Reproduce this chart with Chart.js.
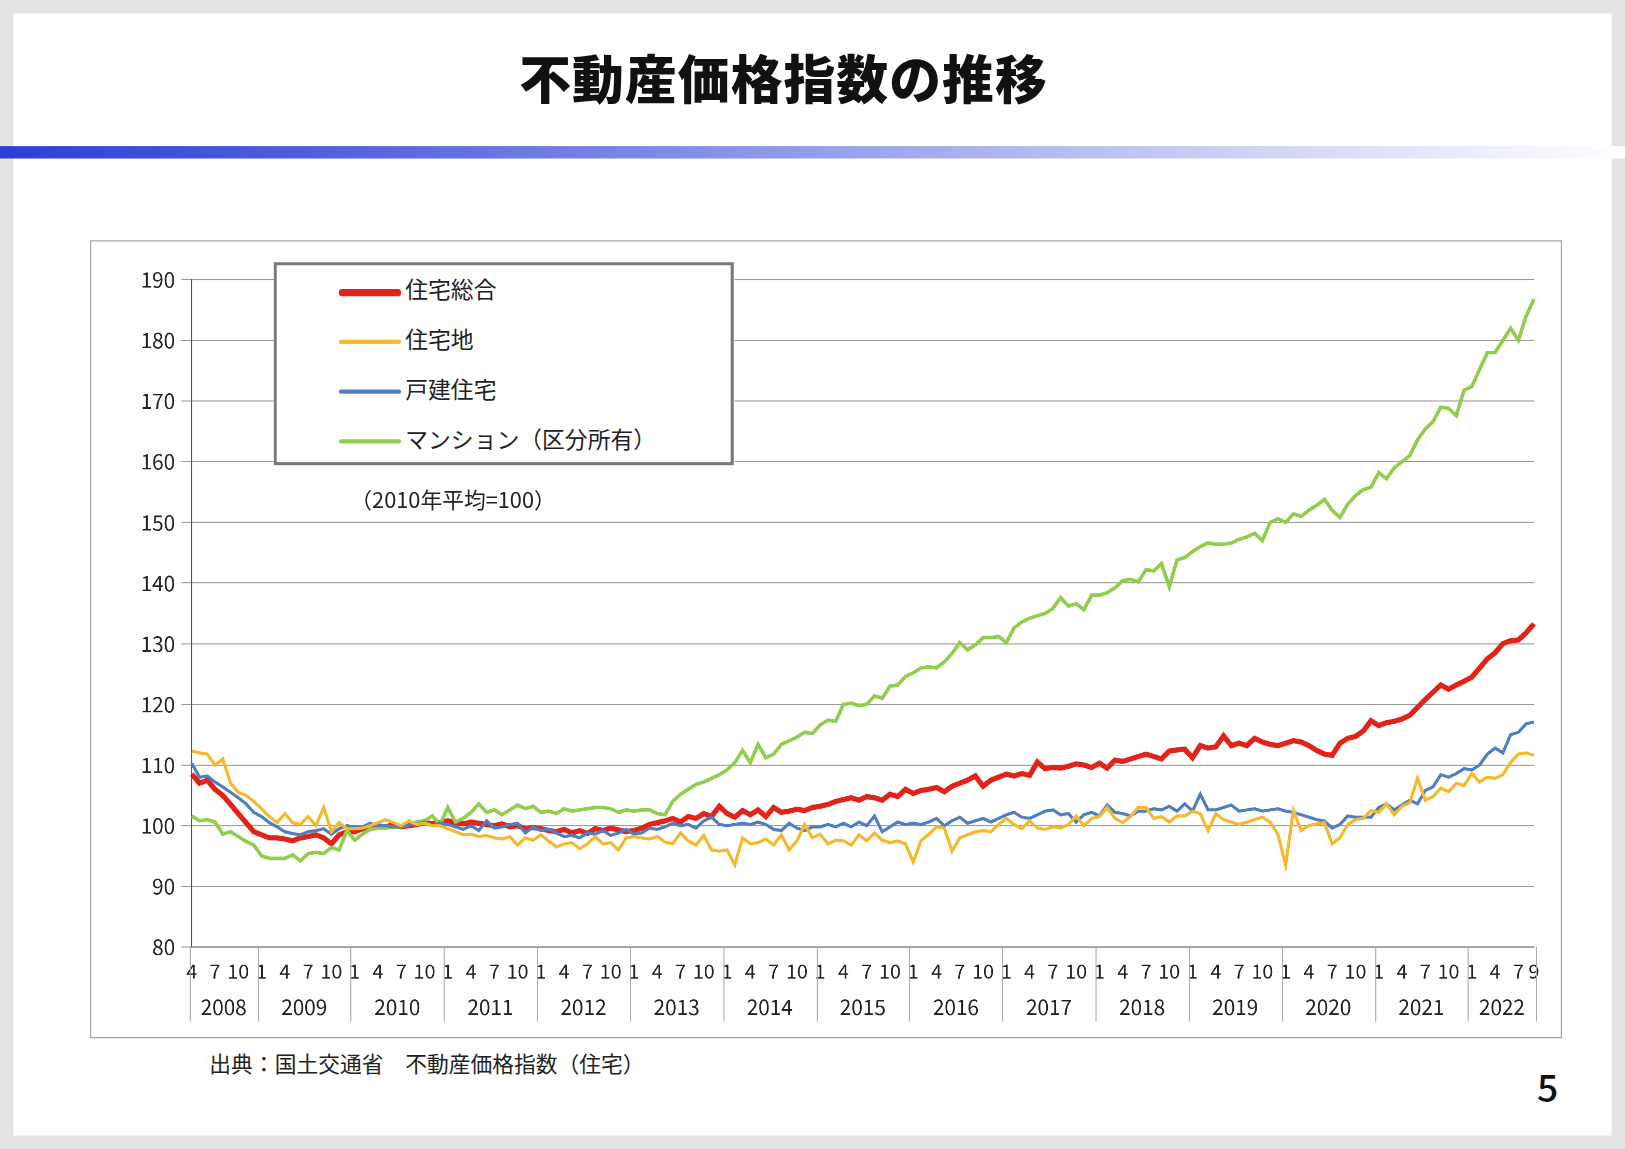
<!DOCTYPE html>
<html>
<head>
<meta charset="utf-8">
<script src="https://cdn.jsdelivr.net/npm/chart.js@4.4.3/dist/chart.umd.min.js"></script>
<style>
  html, body { margin: 0; padding: 0; background: #e4e4e4; overflow: hidden; }
  #slide { position: absolute; left: 0; top: 0; width: 1568px; height: 1109px;
    transform-origin: 0 0; transform: scale(1.0364, 1.0361);
    font-family: "Noto Sans CJK JP", "Noto Sans", sans-serif; }
  #page { position: absolute; left: 13px; top: 13px; width: 1542px; height: 1083px; background: #fff; }
  #title { position: absolute; left: 0; width: 1512px; top: 38px; text-align: center;
    font-size: 50px; font-weight: 900; color: #111; letter-spacing: 1px; }
  #bar { position: absolute; left: 0; top: 141px; width: 1568px; height: 12px;
    background: linear-gradient(to right, #2b3fd6 0%, #5a6ae0 25%, #aab2ee 60%, #ffffff 100%); }
  #box { position: absolute; left: 87px; top: 232px; width: 1418px; height: 768px; border: 1px solid #999; background: #fff; }
  #wrap { position: absolute; left: 87px; top: 232px; width: 1420px; height: 770px; }
  #legend { position: absolute; left: 264px; top: 253px; width: 438px; height: 190px;
    border: 3px solid #7a7a7a; background: #fff; }
  .li { position: absolute; left: 60px; font-size: 22px; color: #222; }
  .li span { display: inline-block; width: 60px; vertical-align: middle; margin-right: 4px; border-radius: 3px; }
  #note { position: absolute; left: 338px; top: 466px; font-size: 21px; color: #222; }
  #src { position: absolute; left: 202px; top: 1011px; font-size: 21px; color: #222; }
  #num { position: absolute; left: 1483px; top: 1022px; font-size: 36px; font-weight: 500; color: #111; }
</style>
</head>
<body>
<div id="slide">
  <div id="page"></div>
  <div id="title">不動産価格指数の推移</div>
  <div id="bar"></div>
  <div id="box"></div>
  <div id="wrap"><canvas id="c" width="1420" height="770"></canvas></div>
  <div id="legend">
    <div class="li" style="top:6px"><span style="height:7px;background:#e2231a"></span>住宅総合</div>
    <div class="li" style="top:54px"><span style="height:4px;background:#f4b92c"></span>住宅地</div>
    <div class="li" style="top:102px"><span style="height:4px;background:#4f7fc0"></span>戸建住宅</div>
    <div class="li" style="top:150px"><span style="height:4px;background:#92cd50"></span>マンション（区分所有）</div>
  </div>
  <div id="note">（2010年平均=100）</div>
  <div id="src">出典：国土交通省　不動産価格指数（住宅）</div>
  <div id="num">5</div>
</div>
<script>
const years = [2008,2009,2010,2011,2012,2013,2014,2015,2016,2017,2018,2019,2020,2021,2022];
const startMonth = 4, endMonth = 9;
const yTicks = [80,90,100,110,120,130,140,150,160,170,180,190];

// 住宅総合
const total = [
108.5,107,107.5,106,105,103.5,102,100.5,99,
98.5,98,98,97.8,97.5,98,98.2,98.5,98,97,98.5,99,
99,99.5,99.5,100,99.8,100.2,99.8,100,100.2,100.5,100.3,100.5,
100.8,100.5,100.3,100.6,100.4,100.2,100,100.3,99.8,100,99.5,99.7,
99.5,99.2,99,99.4,98.8,99.2,98.7,99.5,99.2,99.6,99.3,99,
99.2,99.6,100.2,100.5,100.8,101.2,100.6,101.5,101.2,102,101.5,103.2,
102,101.4,102.5,101.8,102.6,101.5,103,102.2,102.4,102.7,102.5,103,
103.2,103.5,104,104.3,104.6,104.2,104.8,104.6,104.2,105.2,104.8,106,
105.3,105.8,106,106.3,105.6,106.5,107,107.5,108.2,106.5,107.5,108,
108.5,108.2,108.6,108.3,110.5,109.4,109.6,109.5,109.8,110.2,110,109.6,
110.3,109.5,110.8,110.6,111,111.4,111.8,111.4,111,112.3,112.5,112.6,
111.2,113.2,112.8,113,114.8,113.2,113.6,113.2,114.4,113.8,113.4,113.2,
113.6,114,113.8,113.2,112.4,111.8,111.6,113.6,114.4,114.7,115.6,117.3,
116.5,117,117.2,117.6,118.2,119.5,120.8,122,123.2,122.5,123.2,123.8,
124.5,126,127.5,128.5,130,130.5,130.6,131.8,133.3];

// 住宅地
const land = [
112.3,112,111.8,110,111,107,105.5,105,104,
102.8,101.5,100.5,102,100.5,100.2,101.5,100,103,99,100.5,99.5,
99.5,99.6,100,100.5,101,100.5,100,100.8,100.2,100.4,100,100,
99.5,99,98.5,98.6,98.2,98.4,98,97.8,98.2,96.8,98,97.6,
98.5,97.5,96.5,97,97.2,96.2,97,98.2,97,97.2,96,98,
98.2,98,97.8,98.2,97.3,97,98.8,97.5,96.8,98.4,96,95.8,
96,93.5,98,97,97.2,97.8,96.8,98.5,96,97.5,100.2,98,
98.6,97,97.6,97.5,96.8,98.5,97.5,98.8,97.6,97.2,97.5,97,
94,97.5,98.6,99.8,99.6,95.8,98,98.5,99,99.2,99,100.2,
101.2,100.2,99.5,100.8,99.6,99.4,99.8,99.6,100.2,101.6,100,101.2,
101.5,103,101.2,100.5,101.5,103,103,101.2,101.5,100.6,101.6,101.6,
102.4,102,99.2,102,101,100.6,100.2,100.6,101,101.4,100.6,98.6,
93.5,102.5,99.2,100,100.3,100.5,97,98,100.2,101,101.2,102.5,
102.2,103.6,101.8,103.2,103.8,107.8,104.2,104.8,106.2,105.6,107,106.6,
108.6,107.2,108,107.8,108.4,110.4,111.8,112,111.6];

// 戸建住宅
const house = [
110.3,108,108.2,107.2,106.4,105.5,104.6,103.6,102.2,
101.5,100.5,99.8,99,98.7,98.5,99,99.2,99.5,98.6,99.5,100,
99.8,99.8,100.4,100,100,99.8,99.8,100.2,100.2,100.6,100,100.4,
100.2,99.8,99.4,100,99.2,100.8,99.6,99.8,100.2,100.4,98.8,99.8,
99.2,99.4,98.8,98.2,98.4,98,98.8,98.6,99.2,98.4,98.8,99.4,
98.6,98.8,99.6,99.4,99.8,100.4,100,100.2,99.6,100.8,101.4,100.2,
100,100.2,100.4,100.2,100.6,100.2,99.4,99.2,100.4,99.6,99.2,99.8,
99.8,100.2,99.8,100.4,99.8,100.6,100,101.6,99,99.8,100.6,100.2,
100.4,100.2,100.6,101.2,100,100.8,101.4,100.4,100.8,101.2,100.6,101.2,
101.8,102.2,101.4,101.2,101.8,102.4,102.6,101.8,102,100.6,101.8,102.2,
101.6,103.4,102.2,102,101.6,102.4,102.4,102.8,102.6,103.2,102.4,103.6,
102.4,105.2,102.6,102.6,103,103.4,102.4,102.6,102.8,102.4,102.6,102.8,
102.4,102.2,101.8,101.4,101,100.8,99.6,100.2,101.6,101.4,101.4,101.4,
103,103.6,102.6,103.4,104.2,103.6,105.8,106.4,108.4,108,108.6,109.4,
109.2,110,111.8,112.8,112,115,115.4,116.8,117.1];

// マンション（区分所有）
const condo = [
101.6,100.8,101,100.6,98.6,99,98.2,97.4,96.8,
95,94.6,94.6,94.6,95.2,94.2,95.4,95.6,95.4,96.4,96,99.2,
97.6,98.6,99.4,99.6,99.6,99.8,99.8,100.2,100.6,100.8,101.6,100.2,
103,100.6,101.2,102.2,103.6,102.2,102.6,101.8,102.6,103.4,102.8,103.2,
102.2,102.4,102,102.8,102.4,102.6,102.8,103,103,102.8,102.2,102.6,
102.4,102.6,102.6,102,101.8,104,105.2,106,106.8,107.2,107.8,108.4,
109.2,110.4,112.4,110.4,113.4,111.2,111.8,113.4,114,114.6,115.4,115.2,
116.6,117.4,117.2,120,120.2,119.8,120,121.4,121,123,123.2,124.6,
125.2,126,126.2,126,127,128.4,130.2,129,129.8,131,131,131.2,
130.2,132.6,133.6,134.2,134.6,135,135.8,137.6,136.2,136.6,135.6,138,
138,138.4,139.2,140.4,140.6,140.2,142.2,142,143.2,139.4,143.8,144.2,
145.2,146,146.6,146.4,146.4,146.6,147.2,147.6,148.2,147,150,150.6,
150,151.4,151,152,152.8,153.8,152,150.8,153,154.4,155.4,155.8,
158.2,157.2,159,160,161,163.6,165.4,166.6,169,168.8,167.6,171.8,
172.4,175.2,178,178,180,182,180,184,186.8];

const labels = [], yearOf = [];
years.forEach((y, i) => {
  const m0 = i === 0 ? startMonth : 1;
  const m1 = i === years.length - 1 ? endMonth : 12;
  for (let m = m0; m <= m1; m++) { labels.push(String(m)); yearOf.push(y); }
});

const yearPlugin = {
  id: 'years',
  afterDraw(chart) {
    const { ctx, scales: { x }, chartArea } = chart;
    ctx.save();
    ctx.strokeStyle = '#aaa'; ctx.lineWidth = 1;
    ctx.fillStyle = '#222';
    ctx.font = '20px "Noto Sans CJK JP", "Noto Sans", sans-serif';
    ctx.textAlign = 'center'; ctx.textBaseline = 'middle';
    const step = x.getPixelForValue(1) - x.getPixelForValue(0);
    years.forEach(y => {
      const first = yearOf.indexOf(y), last = yearOf.lastIndexOf(y);
      const a = x.getPixelForValue(first) - (first === 0 ? 2 : step / 2);
      const b = x.getPixelForValue(last) + (last === labels.length - 1 ? 2 : step / 2);
      ctx.beginPath(); ctx.moveTo(Math.round(a) + 0.5, chartArea.bottom);
      ctx.lineTo(Math.round(a) + 0.5, chartArea.bottom + 72); ctx.stroke();
      ctx.fillText(String(y), (a + b) / 2, chartArea.bottom + 58);
    });
    const b = x.getPixelForValue(labels.length - 1) + 2;
    ctx.beginPath(); ctx.moveTo(Math.round(b) + 0.5, chartArea.bottom);
    ctx.lineTo(Math.round(b) + 0.5, chartArea.bottom + 72); ctx.stroke();
    ctx.restore();
  }
};

const ds = (data, color, w) => ({ data, borderColor: color, backgroundColor: color,
  borderWidth: w, pointRadius: 0, tension: 0 });

new Chart(document.getElementById('c'), {
  type: 'line',
  data: { labels, datasets: [
    ds(land, '#f4b92c', 3),
    ds(house, '#4f7fc0', 3),
    ds(condo, '#92cd50', 3.5),
    ds(total, '#e2231a', 5)
  ]},
  options: {
    responsive: false, animation: false, devicePixelRatio: 2,
    layout: { padding: { top: 38, right: 27, left: 0, bottom: 0 } },
    plugins: { legend: { display: false }, tooltip: { enabled: false } },
    scales: {
      x: {
        offset: false,
        grid: { display: false },
        border: { color: '#555', width: 1 },
        afterFit(s) { s.height = 88; },
        ticks: {
          autoSkip: false, maxRotation: 0, minRotation: 0, padding: 4,
          color: '#222', font: { size: 19, family: '"Noto Sans CJK JP", sans-serif' },
          callback(v, i) {
            const m = Number(labels[i]);
            return (m % 3 === 1 || i === labels.length - 1) ? labels[i] : '';
          }
        }
      },
      y: {
        min: 80, max: 190,
        afterFit(s) { s.width = 98; },
        afterBuildTicks(s) { s.ticks = yTicks.map(v => ({ value: v })); },
        grid: { color: '#999', drawTicks: true, tickLength: 10, lineWidth: 1 },
        border: { color: '#555', width: 1 },
        ticks: { color: '#222', padding: 6, font: { size: 20, family: '"Noto Sans CJK JP", sans-serif' } }
      }
    }
  },
  plugins: [yearPlugin]
});
</script>
</body>
</html>
